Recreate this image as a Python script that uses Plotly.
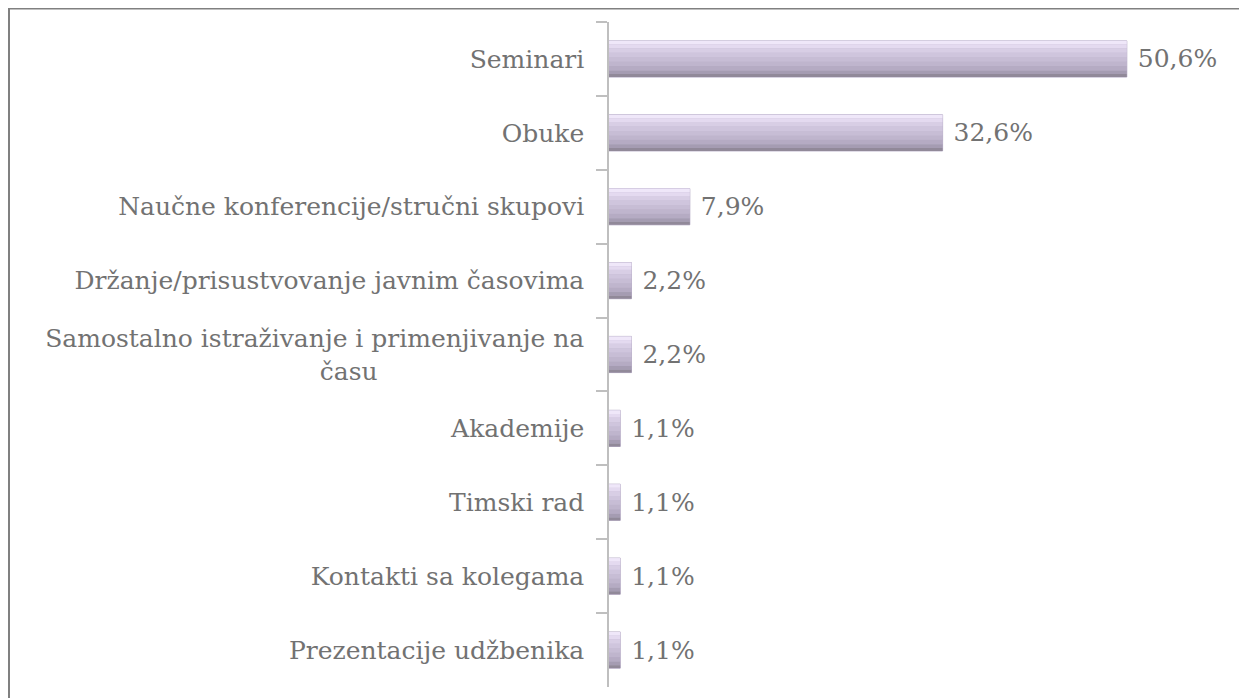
import plotly.graph_objects as go

categories = [
    "Seminari",
    "Obuke",
    "Naučne konferencije/stručni skupovi",
    "Držanje/prisustvovanje javnim časovima",
    "Samostalno istraživanje i primenjivanje na<br>času" + "\u00a0" * 26,
    "Akademije",
    "Timski rad",
    "Kontakti sa kolegama",
    "Prezentacije udžbenika",
]
values = [50.6, 32.6, 7.9, 2.2, 2.2, 1.1, 1.1, 1.1, 1.1]
labels = ["50,6%", "32,6%", "7,9%", "2,2%", "2,2%", "1,1%", "1,1%", "1,1%", "1,1%"]

# page has an 8px body margin, so the figure is drawn 8px right/down
W, H = 1239, 690
ML, MR, MT, MB = 601, 24, 14, 11
FONT = "DejaVu Serif"
TXT = "#727272"
BW = 0.49

fig = go.Figure()
fig.add_trace(go.Bar(
    x=values, y=categories, orientation="h", width=BW,
    marker=dict(color="#C4BAD3", line=dict(color="#B9AFC8", width=1)),
    text=["\u00a0" + t for t in labels], textposition="outside", cliponaxis=False,
    textfont=dict(family=FONT, size=25, color=TXT),
    hoverinfo="skip",
))
# vertical gradient strips (top light -> bottom dark)
strip_cols = ["#EFE7F9", "#E4DAF0", "#D8CEE5", "#CFC5DD", "#C7BDD5",
              "#BFB5CD", "#B5ABC3", "#A59CB2", "#918999"]
strip_w = [0.05, 0.05, 0.06, 0.06, 0.06, 0.06, 0.06, 0.05, 0.04]
off = -BW / 2
for w, col in zip(strip_w, strip_cols):
    fig.add_trace(go.Bar(
        x=values, y=categories, orientation="h", width=w, offset=off,
        marker=dict(color=col, line=dict(width=0)), hoverinfo="skip",
    ))
    off += w

fig.update_layout(
    width=W, height=H, barmode="overlay", showlegend=False,
    margin=dict(l=ML, r=MR, t=MT, b=MB),
    plot_bgcolor="white", paper_bgcolor="white",
    xaxis=dict(range=[0, 60], visible=False, showgrid=False, zeroline=False),
    yaxis=dict(
        autorange="reversed", type="category", tickson="boundaries",
        ticks="outside", ticklen=11, tickcolor="#BFBFBF", tickwidth=1.5,
        showline=True, linecolor="#BFBFBF", linewidth=1.5,
        showgrid=False, ticklabelstandoff=18,
        tickfont=dict(family=FONT, size=25, color=TXT),
    ),
    shapes=[
        dict(type="line", xref="paper", yref="paper",
             x0=-ML / (W - ML - MR), x1=W / (W - ML - MR),
             y0=(H - MB - 0.8) / (H - MT - MB), y1=(H - MB - 0.8) / (H - MT - MB),
             line=dict(color="#808080", width=1.5)),
        dict(type="line", xref="paper", yref="paper",
             x0=-(ML - 1) / (W - ML - MR), x1=-(ML - 1) / (W - ML - MR),
             y0=-MB / (H - MT - MB), y1=(H - MB - 0.8) / (H - MT - MB),
             line=dict(color="#808080", width=2)),
    ],
)

fig.write_html("out.html")
